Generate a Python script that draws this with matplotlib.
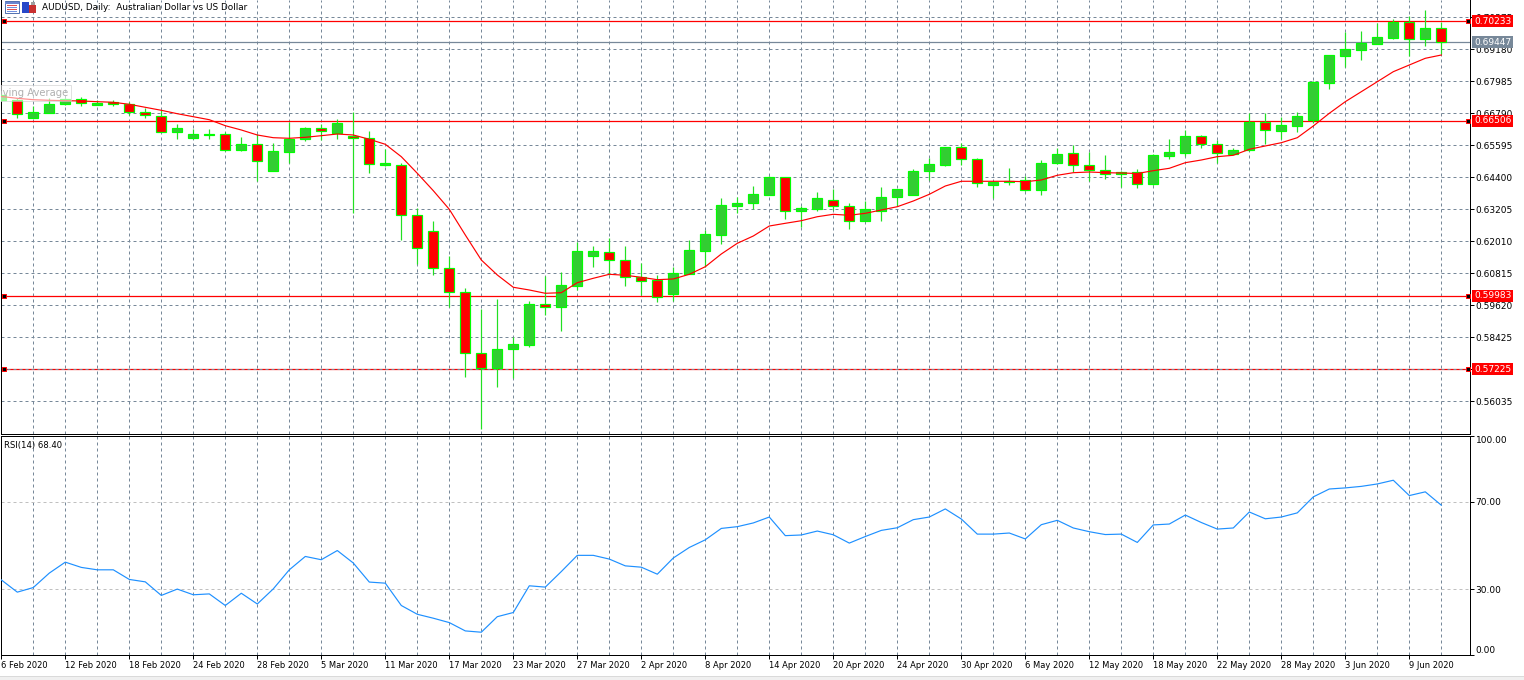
import matplotlib
matplotlib.use("Agg")
import matplotlib.pyplot as plt
import numpy as np
from matplotlib.patches import Rectangle
from matplotlib.lines import Line2D
from matplotlib.transforms import blended_transform_factory

plt.rcParams['font.family'] = ['DejaVu Sans']

# ---------------- data ----------------
chart_title = "AUDUSD, Daily:  Australian Dollar vs US Dollar"
indicator_label = "Moving Average"
rsi_label = "RSI(14) 68.40"

opens = [0.67287, 0.67287, 0.66626, 0.66813, 0.67138, 0.67324, 0.67111, 0.67201, 0.67138, 0.66828,
         0.66701, 0.66103, 0.65857, 0.65980, 0.66006, 0.65409, 0.65633, 0.64647, 0.65334, 0.65820,
         0.66253, 0.66066, 0.65943, 0.65857, 0.64848, 0.64860, 0.62982, 0.62384, 0.61002, 0.60106,
         0.57826, 0.57288, 0.57977, 0.58149, 0.59669, 0.59546, 0.60352, 0.61472, 0.61600, 0.61301,
         0.60666, 0.60566, 0.60056, 0.60790, 0.61659, 0.62246, 0.63340, 0.63452, 0.63751, 0.64400,
         0.63131, 0.63228, 0.63553, 0.63329, 0.62758, 0.63153, 0.63676, 0.63751, 0.64624, 0.64848,
         0.65521, 0.65072, 0.64101, 0.64214, 0.64288, 0.63915, 0.64923, 0.65296, 0.64848, 0.64662,
         0.64524, 0.64587, 0.64150, 0.65207, 0.65319, 0.65943, 0.65633, 0.65282, 0.65420, 0.66454,
         0.66141, 0.66327, 0.66540, 0.67933, 0.68941, 0.69165, 0.69389, 0.69613, 0.70211, 0.69576,
         0.69964]
highs = [0.67548, 0.67350, 0.67074, 0.67350, 0.67373, 0.67399, 0.67287, 0.67298, 0.67201, 0.67000,
         0.66914, 0.66380, 0.66204, 0.66204, 0.66103, 0.65917, 0.66006, 0.65671, 0.66477, 0.66279,
         0.66402, 0.66566, 0.66850, 0.66141, 0.65446, 0.64923, 0.63243, 0.62770, 0.61461, 0.60255,
         0.59464, 0.59856, 0.58449, 0.59781, 0.60726, 0.60853, 0.61972, 0.61834, 0.62145, 0.61834,
         0.61189, 0.60752, 0.61061, 0.62059, 0.62432, 0.63616, 0.63676, 0.64075, 0.64430, 0.64411,
         0.63329, 0.63851, 0.63964, 0.63429, 0.63516, 0.64028, 0.63964, 0.64699, 0.65110, 0.65532,
         0.65692, 0.65121, 0.64244, 0.64737, 0.64449, 0.65046, 0.65484, 0.65607, 0.65357, 0.65233,
         0.64617, 0.64699, 0.65252, 0.65842, 0.66167, 0.65980, 0.65793, 0.65484, 0.66790, 0.66790,
         0.66663, 0.66850, 0.67978, 0.68967, 0.69837, 0.69875, 0.70173, 0.70311, 0.70423, 0.70648,
         0.70211]
lows = [0.67250, 0.66604, 0.66620, 0.66790, 0.67100, 0.67063, 0.67100, 0.67074, 0.66727, 0.66626,
        0.66081, 0.65831, 0.65831, 0.65831, 0.65382, 0.65400, 0.64262, 0.64635, 0.64946, 0.65756,
        0.65793, 0.65820, 0.63078, 0.64572, 0.64822, 0.62059, 0.61163, 0.60752, 0.59546, 0.56950,
        0.55016, 0.56580, 0.56920, 0.58063, 0.59258, 0.58672, 0.60192, 0.61061, 0.60752, 0.60352,
        0.60005, 0.59755, 0.59781, 0.60790, 0.61061, 0.61910, 0.63078, 0.63228, 0.63721, 0.62832,
        0.62534, 0.63131, 0.63179, 0.62481, 0.62750, 0.62780, 0.63329, 0.63751, 0.64296, 0.64840,
        0.64871, 0.64049, 0.63616, 0.64113, 0.63877, 0.63739, 0.64915, 0.64609, 0.64273, 0.64348,
        0.64049, 0.63989, 0.64131, 0.65072, 0.65196, 0.65484, 0.64946, 0.65270, 0.65394, 0.65644,
        0.65820, 0.66103, 0.66439, 0.67687, 0.68530, 0.68780, 0.69385, 0.69553, 0.68930, 0.69303,
        0.69004]
closes = [0.67474, 0.66753, 0.66828, 0.67138, 0.67324, 0.67175, 0.67164, 0.67126, 0.66828, 0.66727,
          0.66103, 0.66253, 0.66017, 0.66006, 0.65409, 0.65633, 0.65020, 0.65382, 0.65831, 0.66253,
          0.66129, 0.66417, 0.65857, 0.64897, 0.64923, 0.62993, 0.61749, 0.61002, 0.60106, 0.57826,
          0.57266, 0.57986, 0.58175, 0.59669, 0.59546, 0.60378, 0.61648, 0.61648, 0.61301, 0.60677,
          0.60517, 0.59930, 0.60816, 0.61685, 0.62283, 0.63366, 0.63452, 0.63777, 0.64400, 0.63131,
          0.63254, 0.63616, 0.63329, 0.62758, 0.63205, 0.63653, 0.63952, 0.64636, 0.64897, 0.65521,
          0.65072, 0.64176, 0.64236, 0.64262, 0.63915, 0.64934, 0.65270, 0.64848, 0.64673, 0.64535,
          0.64598, 0.64150, 0.65233, 0.65334, 0.65943, 0.65633, 0.65319, 0.65420, 0.66477, 0.66167,
          0.66353, 0.66692, 0.67970, 0.68967, 0.69180, 0.69426, 0.69628, 0.70211, 0.69576, 0.69964,
          0.69447]
moving_average = [0.67418, 0.67350, 0.67298, 0.67276, 0.67261, 0.67250, 0.67224, 0.67201, 0.67126, 0.67014,
                  0.66902, 0.66775, 0.66663, 0.66551, 0.66327, 0.66167, 0.65980, 0.65879, 0.65857, 0.65894,
                  0.65954, 0.66017, 0.65980, 0.65820, 0.65633, 0.65170, 0.64550, 0.63900, 0.63205, 0.62246,
                  0.61312, 0.60752, 0.60293, 0.60192, 0.60069, 0.60091, 0.60465, 0.60629, 0.60778, 0.60741,
                  0.60666, 0.60577, 0.60603, 0.60778, 0.61061, 0.61536, 0.61935, 0.62208, 0.62581, 0.62682,
                  0.62779, 0.62928, 0.63018, 0.62981, 0.63055, 0.63179, 0.63302, 0.63515, 0.63765, 0.64075,
                  0.64251, 0.64251, 0.64251, 0.64251, 0.64236, 0.64299, 0.64475, 0.64572, 0.64598, 0.64572,
                  0.64561, 0.64542, 0.64647, 0.64736, 0.64946, 0.65046, 0.65170, 0.65222, 0.65446, 0.65570,
                  0.65692, 0.65879, 0.66316, 0.66790, 0.67224, 0.67597, 0.67970, 0.68344, 0.68594, 0.68844,
                  0.68967]
rsi_values = [34.3, 28.7, 30.8, 37.4, 42.4, 40.0, 38.9, 38.9, 34.5, 33.4,
              27.2, 30.1, 27.5, 27.9, 22.6, 28.2, 23.3, 30.2, 38.9, 45.0,
              43.5, 47.7, 42.0, 33.3, 32.8, 22.6, 18.6, 16.8, 14.8, 11.0,
              10.4, 17.5, 19.4, 31.6, 31.0, 38.1, 45.5, 45.5, 43.8, 40.7,
              40.1, 36.9, 44.3, 49.1, 52.6, 57.8, 58.6, 60.3, 63.0, 54.5,
              54.8, 56.6, 54.9, 51.1, 54.1, 56.9, 58.1, 61.8, 63.0, 66.7,
              62.1, 55.2, 55.2, 55.7, 53.0, 59.5, 61.5, 58.0, 56.3, 55.0,
              55.2, 51.4, 59.4, 59.8, 63.9, 60.5, 57.5, 58.0, 65.3, 62.2,
              63.0, 64.9, 72.2, 75.8, 76.3, 77.0, 78.1, 79.8, 72.8, 74.5,
              68.4]
price_ticks = [0.70375, 0.69180, 0.67985, 0.66790, 0.65595, 0.64400, 0.63205,
               0.62010, 0.60815, 0.59620, 0.58425, 0.57230, 0.56035]
level_lines = [0.70233, 0.66506, 0.59983, 0.57225]
bid_price = 0.69447
rsi_ticks = [0, 30, 70, 100]
rsi_levels = [30, 70]
date_labels = ["6 Feb 2020", "12 Feb 2020", "18 Feb 2020", "24 Feb 2020", "28 Feb 2020",
               "5 Mar 2020", "11 Mar 2020", "17 Mar 2020", "23 Mar 2020", "27 Mar 2020",
               "2 Apr 2020", "8 Apr 2020", "14 Apr 2020", "20 Apr 2020", "24 Apr 2020",
               "30 Apr 2020", "6 May 2020", "12 May 2020", "18 May 2020", "22 May 2020",
               "28 May 2020", "3 Jun 2020", "9 Jun 2020"]

# ---------------- style ----------------
W, H = 1524, 680
FS_PRICE = 6.5
FS_DATE = 6.0
GRID_C = '#778899'
BULL_FILL = '#32CD32'
EDGE_C = '#00FF00'
WICK_C = '#22E022'
LW1 = 0.72  # one pixel

fig = plt.figure(figsize=(W / 100, H / 100), dpi=100)
fig.patch.set_facecolor('white')

def px_axes(x0, y0, x1, y1):
    return fig.add_axes([x0 / W, 1 - y1 / H, (x1 - x0) / W, (y1 - y0) / H])

ax = px_axes(1, 0, 1470, 434)
axr = px_axes(1, 436, 1470, 655)

o = np.array(opens); hgh = np.array(highs); low = np.array(lows); c = np.array(closes)
n = len(o)
x = np.arange(n)
xlim = (-0.3 / 16, (1470 - 1.3) / 16)

# ---------------- main panel ----------------
ax.set_xlim(*xlim)
ax.set_ylim(0.54814, 0.71021)
for sp in ['left', 'bottom', 'right']:
    ax.spines[sp].set_linewidth(LW1)
    ax.spines[sp].set_color('black')
ax.spines['top'].set_visible(False)
ax.set_xticks([])
ax.yaxis.tick_right()
ax.set_yticks(price_ticks)
ax.set_yticklabels([f"{t:.5f}" for t in price_ticks])
ax.tick_params(axis='y', direction='out', length=3, width=LW1, pad=1.0, labelsize=FS_PRICE, colors='black')
ax.grid(axis='y', color=GRID_C, linestyle=(0, (3, 3)), linewidth=LW1, zorder=0)
for gx in range(0, n, 2):
    ax.axvline(gx, color=GRID_C, linestyle=(0, (3, 3)), linewidth=LW1, zorder=0)
    axr.axvline(gx, color=GRID_C, linestyle=(0, (3, 3)), linewidth=LW1, zorder=0)

# horizontal levels
bt = blended_transform_factory(ax.transAxes, ax.transData)
for v in level_lines:
    ax.axhline(v, color='#FF0000', linewidth=0.9, zorder=1.5)
    ax.plot([3 / 1469, 1466.7 / 1469], [v, v], transform=bt, ls='none', marker='s', ms=3.3,
            mfc='black', mec='#FF0000', mew=0.7, clip_on=False, zorder=6)
ax.axhline(bid_price, color=GRID_C, linewidth=0.9, zorder=1.5)

# candles
up = c >= o
body_lo = np.minimum(o, c)
body_h = np.abs(c - o)
ax.vlines(x, low, hgh, color=WICK_C, linewidth=LW1 * 1.2, zorder=3)
ax.bar(x[up], body_h[up], bottom=body_lo[up], width=0.64, color=BULL_FILL,
       edgecolor=EDGE_C, linewidth=LW1 * 1.2, zorder=4)
ax.bar(x[~up], body_h[~up], bottom=body_lo[~up], width=0.64, color='#FF0000',
       edgecolor=EDGE_C, linewidth=LW1 * 1.2, zorder=4)

# moving average
ax.plot(x, moving_average, color='#FF0000', linewidth=0.85, zorder=5)

# price labels on the right
def price_tag(val, fc):
    ax.annotate(f"{val:.5f}", xy=(1, val), xycoords=bt, xytext=(4, 0), textcoords='offset pixels',
                ha='left', va='center', color='white', fontsize=FS_PRICE,
                bbox=dict(boxstyle='square,pad=0.17', fc=fc, ec='none'),
                annotation_clip=False, zorder=10)
for v in level_lines:
    price_tag(v, '#FF0000')
price_tag(bid_price, GRID_C)

# "Moving Average" tooltip, partly hidden behind the left edge as in the original
ax.text(-13 / 1469, 1 - 93 / 434, indicator_label, transform=ax.transAxes, fontsize=7.2,
        color='#B0B0B0', ha='left', va='center', clip_on=True, zorder=7,
        bbox=dict(boxstyle='square,pad=0.3', fc='white', ec='#C8C8C8', alpha=0.55, lw=0.7))

# ---------------- RSI panel ----------------
axr.set_xlim(*xlim)
axr.set_ylim(0, 100)
for sp in axr.spines.values():
    sp.set_linewidth(LW1)
    sp.set_color('black')
axr.yaxis.tick_right()
axr.set_yticks(rsi_ticks)
axr.set_yticklabels([f"{t:.2f}" for t in rsi_ticks])
axr.tick_params(axis='y', direction='out', length=3, width=LW1, pad=1.0, labelsize=FS_PRICE)
ylabs = axr.get_yticklabels()
ylabs[0].set_va('bottom')
ylabs[-1].set_va('top')
for lv in rsi_levels:
    axr.axhline(lv, color='#C0C0C0', linestyle=(0, (3, 3)), linewidth=LW1, zorder=0.5)
axr.plot(x, rsi_values, color='#1E90FF', linewidth=0.85, zorder=3)

date_pos = np.arange(len(date_labels)) * 4
axr.set_xticks(date_pos)
axr.set_xticklabels(date_labels, ha='left')
axr.tick_params(axis='x', direction='out', length=3, width=LW1, pad=1.5, labelsize=FS_DATE)

# ---------------- figure texts / decorations ----------------
fig.text(42 / W, 1 - 7 / H, chart_title, fontsize=6.4, ha='left', va='center', color='black')
fig.text(4 / W, 1 - 445.5 / H, rsi_label, fontsize=6.1, ha='left', va='center', color='black')

def fig_rect(x0, y0, w, h, fc, ec='none', lw=0.0):
    fig.add_artist(Rectangle((x0 / W, 1 - (y0 + h) / H), w / W, h / H, transform=fig.transFigure,
                             fc=fc, ec=ec, lw=lw))

# icon 1: table/window
fig_rect(5, 1.5, 14, 11, 'white', '#5070B0', 0.7)
fig_rect(5, 1.5, 14, 2.5, '#6A86D0')
for k, col in enumerate(['#E05050', '#7090E0', '#E05050', '#7090E0']):
    fig_rect(7, 5 + 2 * k, 10, 1.2, col)
# icon 2: blue/red bars
fig_rect(22, 2, 7, 11, '#2848C8')
fig_rect(29, 5, 7, 8, '#C83030')
fig_rect(30.5, 2, 4, 3, '#A0A0A0')

# bottom strip
fig_rect(0, 676, W, 4, '#F0F0F0')
fig.add_artist(Line2D([0, 1], [1 - 676 / H, 1 - 676 / H], transform=fig.transFigure,
                      color='#DADADA', lw=0.7))

fig.savefig('out.png', dpi=100, facecolor='white')
